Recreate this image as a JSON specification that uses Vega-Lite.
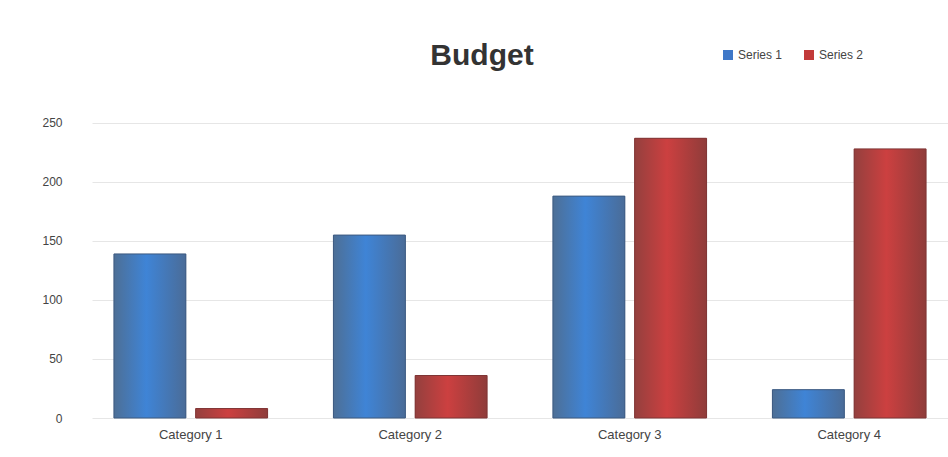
{
  "$schema": "https://vega.github.io/schema/vega-lite/v6.json",
  "width": 948,
  "height": 457,
  "autosize": {"type": "fit", "contains": "padding"},
  "padding": {"left": 41, "right": 0, "top": 41, "bottom": 16},
  "background": "white",
  "title": {"text": "Budget", "fontSize": 30, "font": "Liberation Sans", "fontWeight": "bold", "color": "#333333", "anchor": "middle", "frame": "group", "dx": -38, "offset": 30},
  "data": {"values": [
    {"category": "Category 1", "series": "Series 1", "value": 139},
    {"category": "Category 1", "series": "Series 2", "value": 8},
    {"category": "Category 2", "series": "Series 1", "value": 155},
    {"category": "Category 2", "series": "Series 2", "value": 36},
    {"category": "Category 3", "series": "Series 1", "value": 188},
    {"category": "Category 3", "series": "Series 2", "value": 237},
    {"category": "Category 4", "series": "Series 1", "value": 24},
    {"category": "Category 4", "series": "Series 2", "value": 228}
  ]},
  "encoding": {
    "x": {"field": "category", "type": "nominal", "title": null, "scale": {"paddingInner": 0.3, "paddingOuter": 0.1},
      "axis": {"labelAngle": 0, "labelFontSize": 13, "labelColor": "#444444", "domain": false, "ticks": false, "labelPadding": 10}},
    "xOffset": {"field": "series", "type": "nominal", "scale": {"paddingInner": 0.12}},
    "y": {"field": "value", "type": "quantitative", "title": null, "scale": {"domain": [0, 268.6], "nice": false},
      "axis": {"values": [0, 50, 100, 150, 200, 250], "labelFontSize": 12, "labelColor": "#444444", "domain": false, "ticks": false, "gridColor": "#e6e6e6", "labelPadding": 30}}
  },
  "layer": [
    {
      "mark": {"type": "bar"},
      "encoding": {
        "color": {"field": "series", "type": "nominal", "title": null,
          "scale": {"domain": ["Series 1", "Series 2"], "range": ["#3f78c8", "#c23a3a"]},
          "legend": {"orient": "none", "legendX": 630, "legendY": -52, "direction": "horizontal", "labelFontSize": 12, "labelColor": "#444444", "symbolType": "square", "columnPadding": 20}}
      }
    },
    {
      "transform": [{"filter": "datum.series === 'Series 1'"}],
      "mark": {"type": "bar", "stroke": "#3d5a80", "strokeWidth": 1,
        "fill": {"gradient": "linear", "x1": 0, "x2": 1, "y1": 0, "y2": 0, "stops": [
          {"offset": 0, "color": "#4d6f96"}, {"offset": 0.45, "color": "#3f84d6"}, {"offset": 1, "color": "#4a6c98"}]}}
    },
    {
      "transform": [{"filter": "datum.series === 'Series 2'"}],
      "mark": {"type": "bar", "stroke": "#7f3535", "strokeWidth": 1,
        "fill": {"gradient": "linear", "x1": 0, "x2": 1, "y1": 0, "y2": 0, "stops": [
          {"offset": 0, "color": "#94403e"}, {"offset": 0.45, "color": "#cc4040"}, {"offset": 1, "color": "#8f3c3a"}]}}
    }
  ],
  "config": {"view": {"stroke": null}, "font": "Liberation Sans"}
}
